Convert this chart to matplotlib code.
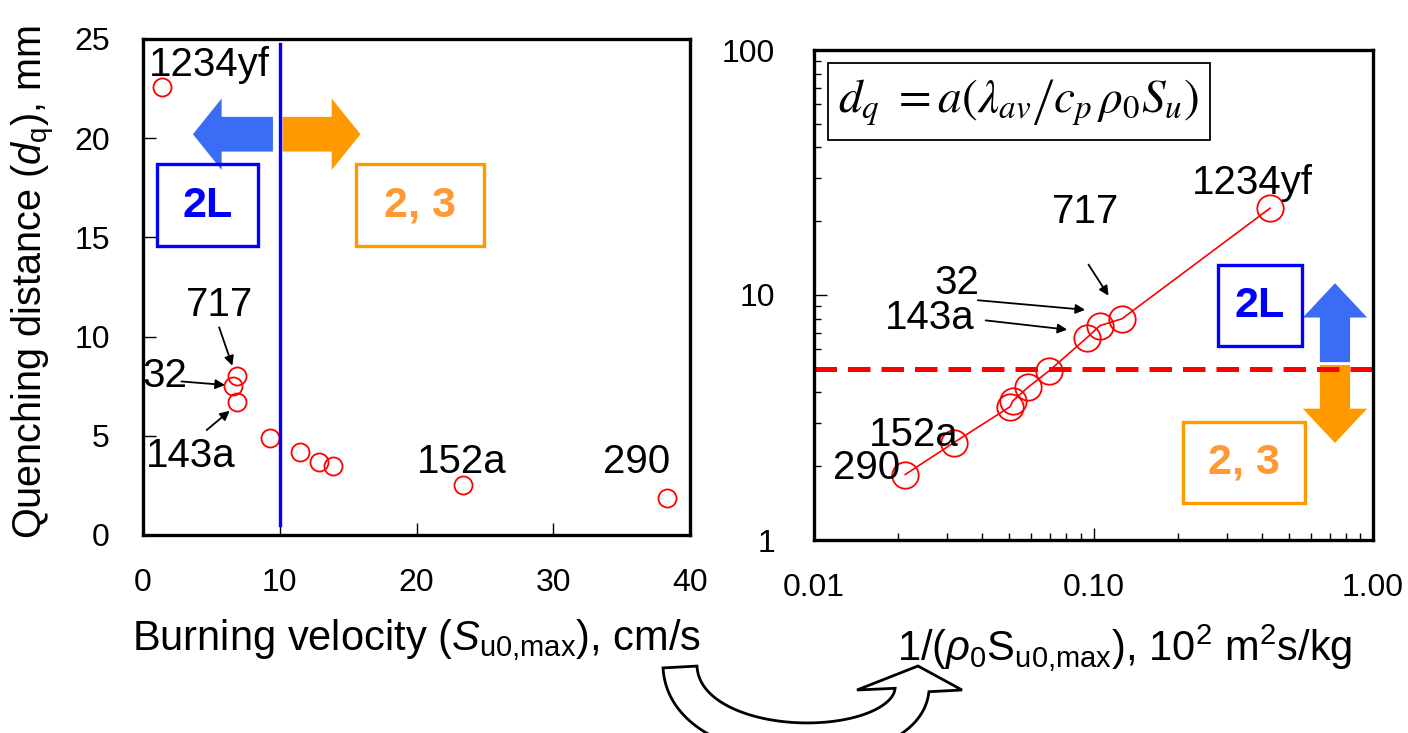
import numpy as np
import matplotlib.pyplot as plt
from matplotlib.patches import FancyArrow, Polygon, Rectangle
from matplotlib.ticker import FixedLocator, FixedFormatter, LogLocator, NullFormatter

plt.rcParams['font.family'] = ['Liberation Sans', 'DejaVu Sans']
plt.rcParams['mathtext.fontset'] = 'custom'
plt.rcParams['mathtext.rm'] = 'Liberation Sans'
plt.rcParams['mathtext.it'] = 'Liberation Sans:italic'

# refrigerants: burning velocity, quenching distance, 1/(rho0*Su)
names = ['1234yf', '717', '32', '143a', '', '', '', '', '152a', '290']
su_max = [1.4, 6.9, 6.6, 6.9, 9.3, 11.5, 12.9, 13.9, 23.4, 38.3]
dq = [22.6, 8.0, 7.5, 6.7, 4.9, 4.2, 3.7, 3.5, 2.5, 1.85]
inv_rho_su = [0.428, 0.1265, 0.1055, 0.0948, 0.0693, 0.0583, 0.0515, 0.0503, 0.0317, 0.0212]

# label positions (text centre) and arrow tails/tips
left_labels = {'1234yf': (0.4, 23.7), '717': (5.6, 11.6), '32': (1.6, 8.0),
               '143a': (3.5, 4.0), '152a': (23.3, 3.7), '290': (36.1, 3.7)}
left_arrows = {'717': ((5.5, 10.6), (6.6, 8.4)),
               '32': ((2.6, 7.75), (6.2, 7.55)),
               '143a': ((4.5, 5.2), (6.5, 6.35))}
right_labels = {'1234yf': (0.369, 28.7), '717': (0.094, 21.8), '32': (0.0325, 11.2),
                '143a': (0.026, 8.06), '152a': (0.0228, 2.68), '290': (0.0154, 1.97)}
right_arrows = {'717': ((0.0948, 13.6), (0.1146, 9.72)),
                '32': ((0.0377, 9.54), (0.0955, 8.68)),
                '143a': ((0.0402, 7.9), (0.0824, 7.2))}

RED = '#FF0000'
BLUE = '#0000FF'
ARR_BLUE = '#3A6CF6'
ORANGE = '#FF9900'
ORANGE_TXT = '#FF9933'
FS_TICK = 23
FS_NOTE = 29
FS_LABEL = 30
FS_BOX = 31

fig = plt.figure(figsize=(14.08, 7.33), dpi=100)
ax1 = fig.add_axes([143 / 1408, 1 - 535 / 733, 547 / 1408, 496 / 733])
ax2 = fig.add_axes([814 / 1408, 1 - 540 / 733, 559 / 1408, 490 / 733])

for ax in (ax1, ax2):
    for s in ax.spines.values():
        s.set_linewidth(2.4)
    ax.tick_params(which='both', direction='in', top=False, right=False,
                   labelsize=FS_TICK, width=1.0)
    ax.tick_params(which='major', length=9)
    ax.tick_params(which='minor', length=5)
    ax.tick_params(axis='x', pad=24)

# ---- left: dq vs burning velocity
ax1.plot(su_max, dq, 'o', ms=13, mfc='none', mec=RED, mew=1.3, zorder=3)
ax1.set_xlim(0, 40)
ax1.set_ylim(0, 25)
ax1.set_xticks([0, 10, 20, 30, 40])
ax1.set_yticks([0, 5, 10, 15, 20, 25])
ax1.tick_params(axis='y', pad=24)
ax1.axvline(10, ymin=0.02, ymax=0.99, color=BLUE, lw=2.4, zorder=4)

for n, (tx, ty) in left_labels.items():
    ha = 'left' if n == '1234yf' else 'center'
    ax1.text(tx, ty, n, fontsize=FS_NOTE, ha=ha, va='center', zorder=5)
for n, (p0, p1) in left_arrows.items():
    ax1.annotate('', xy=p1, xytext=p0,
                 arrowprops=dict(arrowstyle='-|>', color='black', lw=1.3,
                                 mutation_scale=14))

ax1.add_patch(FancyArrow(9.5, 20.2, -5.85, 0, width=1.75, head_width=3.6,
                         head_length=2.1, length_includes_head=True,
                         color=ARR_BLUE, lw=0))
ax1.add_patch(FancyArrow(10.2, 20.2, 5.7, 0, width=1.75, head_width=3.6,
                         head_length=2.1, length_includes_head=True,
                         color=ORANGE, lw=0))
ax1.add_patch(Rectangle((1.0, 14.55), 7.4, 4.15, fill=False, ec=BLUE, lw=2.4))
ax1.text(4.7, 16.6, '2L', color=BLUE, fontsize=FS_BOX, fontweight='bold',
         ha='center', va='center')
ax1.add_patch(Rectangle((15.6, 14.55), 9.3, 4.15, fill=False, ec=ORANGE, lw=2.4))
ax1.text(20.25, 16.6, '2, 3', color=ORANGE_TXT, fontsize=FS_BOX, fontweight='bold',
         ha='center', va='center')

ax1.set_xlabel(r'Burning velocity ($S_{\rm u0{,}max}$), cm/s', fontsize=FS_LABEL,
               labelpad=14)
ax1.set_ylabel(r'Quenching distance ($d_{\rm q}$), mm', fontsize=FS_LABEL - 1.5,
               labelpad=12)
ax1.yaxis.label.set_y(0.51)

# ---- right: dq vs 1/(rho0*Su), log-log
order = np.argsort(inv_rho_su)
xs = np.array(inv_rho_su)[order]
ys = np.array(dq)[order]
ax2.plot(xs, ys, '-', color=RED, lw=1.2, zorder=3)
ax2.plot(xs, ys, 'o', ms=19, mfc='none', mec=RED, mew=1.3, zorder=3)
ax2.set_xscale('log')
ax2.set_yscale('log')
ax2.set_xlim(0.01, 1.0)
ax2.set_ylim(1, 100)
ax2.xaxis.set_major_locator(FixedLocator([0.01, 0.1, 1.0]))
ax2.xaxis.set_major_formatter(FixedFormatter(['0.01', '0.10', '1.00']))
ax2.yaxis.set_major_locator(FixedLocator([1, 10, 100]))
ax2.yaxis.set_major_formatter(FixedFormatter(['1', '10', '100']))
for a in (ax2.xaxis, ax2.yaxis):
    a.set_minor_locator(LogLocator(base=10, subs=np.arange(2, 10)))
    a.set_minor_formatter(NullFormatter())
ax2.tick_params(axis='y', pad=28)
ax2.axhline(5, color=RED, lw=3.6, ls=(0, (4.5, 2.2)), zorder=2)

for n, (tx, ty) in right_labels.items():
    ax2.text(tx, ty, n, fontsize=FS_NOTE, ha='center', va='center', zorder=5)
for n, (p0, p1) in right_arrows.items():
    ax2.annotate('', xy=p1, xytext=p0,
                 arrowprops=dict(arrowstyle='-|>', color='black', lw=1.3,
                                 mutation_scale=14))

ta = ax2.transAxes
ax2.add_patch(FancyArrow(0.932, 0.363, 0, 0.161, width=0.054, head_width=0.115,
                         head_length=0.07, length_includes_head=True,
                         color=ARR_BLUE, lw=0, transform=ta, zorder=1))
ax2.add_patch(FancyArrow(0.932, 0.357, 0, -0.159, width=0.054, head_width=0.115,
                         head_length=0.07, length_includes_head=True,
                         color=ORANGE, lw=0, transform=ta, zorder=1))
ax2.add_patch(Rectangle((0.723, 0.396), 0.15, 0.165, fill=False, ec=BLUE, lw=2.4,
                        transform=ta))
ax2.text(0.798, 0.478, '2L', color=BLUE, fontsize=FS_BOX, fontweight='bold',
         ha='center', va='center', transform=ta)
ax2.add_patch(Rectangle((0.660, 0.0755), 0.218, 0.165, fill=False, ec=ORANGE,
                        lw=2.4, transform=ta))
ax2.text(0.769, 0.158, '2, 3', color=ORANGE_TXT, fontsize=FS_BOX, fontweight='bold',
         ha='center', va='center', transform=ta)

# flame quenching relation
ax2.add_patch(Rectangle((0.025, 0.816), 0.683, 0.157, fill=False, ec='black',
                        lw=1.3, transform=ta))
ax2.text(0.366, 0.893,
         r'$d_q\ =a\left(\lambda_{av}\left/c_p\,\rho_0 S_u\right.\right)$',
         fontsize=34, ha='center', va='center', transform=ta,
         math_fontfamily='stix')

ax2.set_xlabel(r'1/($\rho_0$S$_{\rm u0{,}max}$), 10$^2$ m$^2$s/kg', fontsize=FS_LABEL,
               labelpad=14)
ax2.xaxis.label.set_x(0.556)

# hollow curved arrow linking the two x axes, outlined in figure pixels
W, H = 1408.0, 733.0
P = np.array([(680, 667), (685, 760), (905, 760), (912, 690)], float)
t = np.linspace(0, 1, 80)[:, None]
centre = ((1 - t) ** 3 * P[0] + 3 * (1 - t) ** 2 * t * P[1]
          + 3 * (1 - t) * t ** 2 * P[2] + t ** 3 * P[3])
tang = (3 * (1 - t) ** 2 * (P[1] - P[0]) + 6 * (1 - t) * t * (P[2] - P[1])
        + 3 * t ** 2 * (P[3] - P[2]))
tang /= np.linalg.norm(tang, axis=1, keepdims=True)
normal = np.column_stack([tang[:, 1], -tang[:, 0]])
half = 17
side_a = centre + half * normal
side_b = centre - half * normal
head = np.array([(857, 690), (918, 666), (962, 690)], float)
outline = np.vstack([side_a, head, side_b[::-1]])
outline = np.column_stack([outline[:, 0] / W, 1 - outline[:, 1] / H])
fig.patches.append(Polygon(outline, closed=True, transform=fig.transFigure,
                           fc='white', ec='black', lw=2.0, joinstyle='miter'))

fig.savefig('out.png', dpi=100)
